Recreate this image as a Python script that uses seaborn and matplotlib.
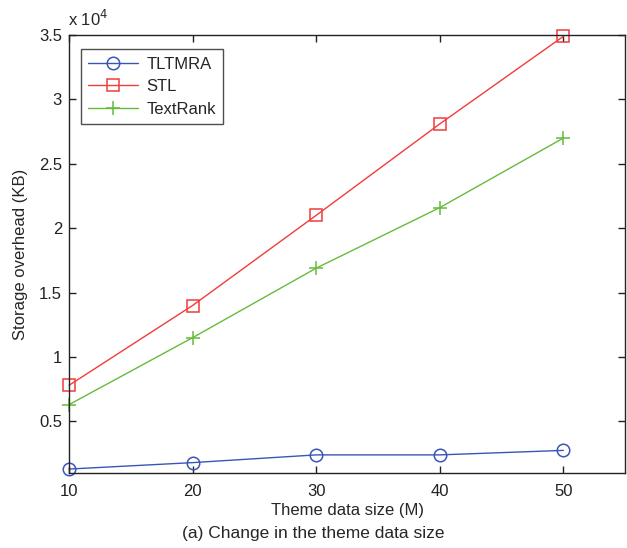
import matplotlib
matplotlib.use("Agg")
import matplotlib.pyplot as plt
import seaborn as sns
import pandas as pd
from matplotlib.ticker import FuncFormatter

sizes = [10, 20, 30, 40, 50]
tltmra = [1300, 1800, 2400, 2400, 2750]
stl = [7800, 14000, 21000, 28100, 34900]
textrank = [6300, 11500, 16900, 21600, 27000]
series_names = ["TLTMRA", "STL", "TextRank"]

df = pd.DataFrame({
    "size": sizes * 3,
    "value": tltmra + stl + textrank,
    "method": sum([[n] * len(sizes) for n in series_names], []),
})

sns.set_style("white")
plt.rcParams['font.family'] = ['Liberation Sans', 'DejaVu Sans']

colors = {"TLTMRA": "#3a55b8", "STL": "#f03c3c", "TextRank": "#66bb3a"}
markers = {"TLTMRA": "o", "STL": "s", "TextRank": "+"}

fig = plt.figure(figsize=(6.27, 5.48), dpi=100)
ax = fig.add_axes([0.110, 0.137, 0.887, 0.799])

for name in series_names:
    sub = df[df["method"] == name]
    sns.lineplot(data=sub, x="size", y="value", ax=ax, color=colors[name],
                 marker=markers[name], markersize=9 if name != "TextRank" else 10,
                 markerfacecolor="none", markeredgecolor=colors[name],
                 markeredgewidth=1.1, linewidth=1.0, label=name, clip_on=False)

ax.set_xlim(10, 55)
ax.set_ylim(1000, 35000)
ax.set_xticks([10, 20, 30, 40, 50])
ax.set_yticks([5000, 10000, 15000, 20000, 25000, 30000, 35000])
ax.yaxis.set_major_formatter(FuncFormatter(lambda v, p: f"{v/1e4:g}"))
ax.tick_params(axis="both", direction="in", length=5, width=1, labelsize=12,
               top=True, right=True, bottom=True, left=True, colors="#222222")
ax.tick_params(axis="x", pad=8)
ax.tick_params(axis="y", pad=5)
for s in ax.spines.values():
    s.set_color("#222222")
    s.set_linewidth(1.0)

ax.set_xlabel("Theme data size (M)", fontsize=12, labelpad=3)
ax.set_ylabel("Storage overhead (KB)", fontsize=12, labelpad=8)
ax.text(-0.002, 1.015, r"x 10$^{4}$", transform=ax.transAxes, fontsize=12,
        ha="left", va="bottom")

leg = ax.legend(loc="upper left", bbox_to_anchor=(0.006, 0.987), fontsize=12,
                frameon=True, fancybox=False, edgecolor="#222222",
                handlelength=3.0, borderpad=0.45, labelspacing=0.45,
                handletextpad=0.5)
leg.get_frame().set_linewidth(1.0)

fig.text(0.5, 0.027, "(a) Change in the theme data size", ha="center",
         va="center", fontsize=12.5)

fig.savefig("out.png", dpi=100)
